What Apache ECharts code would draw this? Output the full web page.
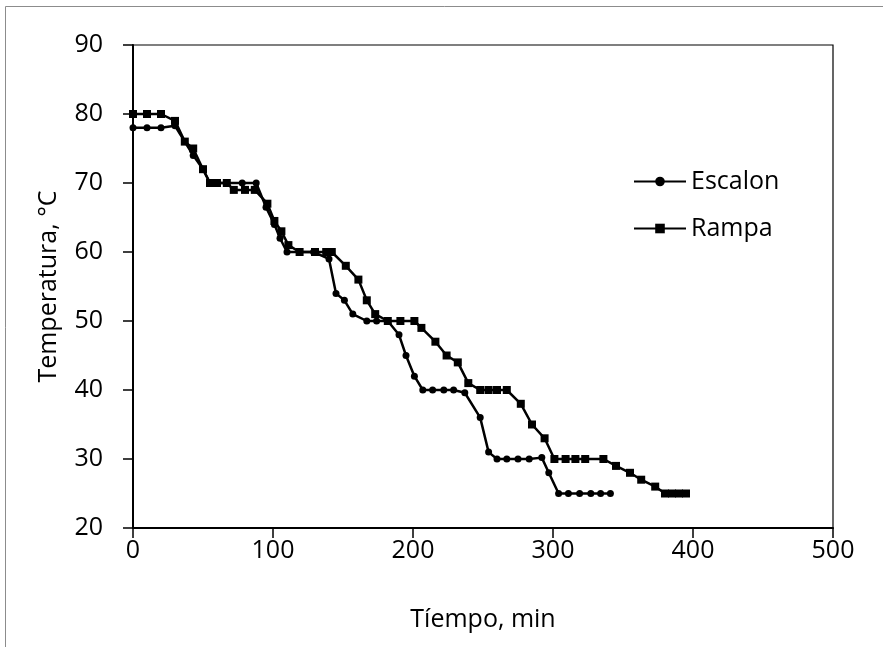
<!DOCTYPE html>
<html>
<head>
<meta charset="utf-8">
<script src="https://cdn.jsdelivr.net/npm/echarts@6/dist/echarts.min.js"></script>
<style>html,body{margin:0;padding:0;background:#fff}#c{width:883px;height:647px}</style>
</head>
<body>
<div id="c"></div>
<script>
const seriesNames = ["Escalon", "Rampa"];
const escalonData = [[0,78],[10,78],[20,78],[30,78.3],[43,74],[50,72],[55,70],[60,70],[67,70],[78,70],[88,70],[95,66.5],[101,64],[105,62],[110,60],[119,60],[129,60],[140,59],[145,54],[151,53],[157,51],[167,50],[174,50],[182,50],[190,48],[195,45],[201,42],[207,40],[214,40],[222,40],[229,40],[237,39.6],[248,36],[254,31],[260,30],[267,30],[275,30],[283,30],[292,30.2],[297,28],[304,25],[311,25],[319,25],[327,25],[334,25],[341,25]];
const rampaData = [[0,80],[10,80],[20,80],[30,79],[37,76],[43,75],[50,72],[55,70],[60,70],[67,70],[72,69],[80,69],[87,69],[96,67],[101,64.5],[106,63],[111,61],[119,60],[130,60],[138,60],[142,60],[152,58],[161,56],[167,53],[173,51],[182,50],[191,50],[201,50],[206,49],[216,47],[224,45],[232,44],[239.5,41],[248,40],[254,40],[260,40],[267,40],[277,38],[285,35],[294,33],[301,30],[309,30],[316,30],[323,30],[336,30],[345,29],[355,28],[363,27],[373,26],[380,25],[385,25],[390,25],[395,25]];
const xAxisTitle = "Tíempo, min";
const yAxisTitle = "Temperatura, °C";

const font = "Open Sans";
const fs = 25;
const chart = echarts.init(document.getElementById('c'), null, {renderer: 'canvas'});
chart.setOption({
  animation: false,
  backgroundColor: '#fff',
  graphic: [{
    type: 'rect', silent: true,
    shape: {x: 5.5, y: 6.5, width: 890, height: 700},
    style: {fill: 'none', stroke: '#8c8c8c', lineWidth: 1}
  }],
  grid: {left: 133, right: 50, top: 45, bottom: 119, show: true, borderColor: '#000', borderWidth: 1.2, backgroundColor: 'transparent'},
  legend: {
    orient: 'vertical', left: 628, top: 163, itemWidth: 52, itemHeight: 12, itemGap: 20,
    textStyle: {fontFamily: font, fontSize: fs, lineHeight: 27, color: '#000', padding: [0,0,0,0]},
    data: seriesNames
  },
  xAxis: {
    type: 'value', min: 0, max: 500, interval: 100,
    name: xAxisTitle, nameLocation: 'middle', nameGap: 79,
    nameTextStyle: {fontFamily: font, fontSize: fs, color: '#000'},
    axisLine: {show: true, lineStyle: {color: '#000', width: 2}},
    axisTick: {show: true, inside: false, length: 10, lineStyle: {color: '#000', width: 1.5}},
    axisLabel: {fontFamily: font, fontSize: fs, color: '#000', margin: 10},
    splitLine: {show: false}
  },
  yAxis: {
    type: 'value', min: 20, max: 90, interval: 10,
    name: yAxisTitle, nameLocation: 'middle', nameGap: 72,
    nameTextStyle: {fontFamily: font, fontSize: fs, color: '#000'},
    axisLine: {show: true, lineStyle: {color: '#000', width: 2}},
    axisTick: {show: true, inside: false, length: 10, lineStyle: {color: '#000', width: 1.5}},
    axisLabel: {fontFamily: font, fontSize: fs, color: '#000', margin: 30},
    splitLine: {show: false}
  },
  series: [
    {name: seriesNames[0], type: 'line', data: escalonData, symbol: 'circle', symbolSize: 7,
     lineStyle: {color: '#000', width: 2.5}, itemStyle: {color: '#000'}},
    {name: seriesNames[1], type: 'line', data: rampaData, symbol: 'rect', symbolSize: 8,
     lineStyle: {color: '#000', width: 2.5}, itemStyle: {color: '#000'}}
  ]
});
</script>
</body>
</html>
